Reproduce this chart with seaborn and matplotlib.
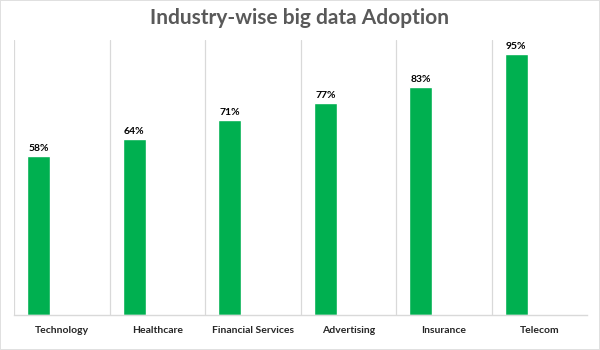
import matplotlib
matplotlib.use("Agg")
import matplotlib.pyplot as plt
import seaborn as sns
import pandas as pd
import numpy as np

categories = ["Technology", "Healthcare", "Financial Services", "Advertising", "Insurance", "Telecom"]
adoption = [58, 64, 71, 77, 83, 95]

sns.set_theme(style="white")
plt.rcParams['font.family'] = ['Lato', 'DejaVu Sans']

df = pd.DataFrame({
    "category": categories * 3,
    "value": adoption + [np.nan] * 6 + [np.nan] * 6,
    "series": ["A"] * 6 + ["B"] * 6 + ["C"] * 6,
})

fig = plt.figure(figsize=(6, 3.5), dpi=100)
fig.patch.set_edgecolor("#e0e0e0")
fig.patch.set_linewidth(1.2)
ax = fig.add_axes([14/600, 35/350, 573/600, 275/350])

sns.barplot(data=df, x="category", y="value", hue="series", hue_order=["A", "B", "C"],
            order=categories, palette=["#00B050", "#00B050", "#00B050"], width=0.72,
            legend=False, ax=ax, errorbar=None, saturation=1)

ax.set_xlim(-0.5, 5.5)
ax.set_ylim(0, 100)
for xv in np.arange(-0.5, 5.0, 1.0):
    ax.axvline(xv, color="#d9d9d9", lw=0.9, zorder=0)
for s in ["top", "right", "left"]:
    ax.spines[s].set_visible(False)
ax.spines["bottom"].set_color("#d9d9d9")
ax.spines["bottom"].set_linewidth(1)
ax.set_yticks([])
ax.set_xlabel("")
ax.set_ylabel("")
ax.tick_params(axis="x", length=0, pad=8)
for lbl in ax.get_xticklabels():
    lbl.set_fontsize(7.5)
    lbl.set_fontweight("bold")
    lbl.set_color("#262626")

for container in ax.containers[:1]:
    ax.bar_label(container, labels=[f"{v}%" for v in adoption], fontsize=7.5,
                 fontweight="bold", color="#000000", padding=2)

fig.text(0.5, 1 - 18/350, "Industry-wise big data Adoption", ha="center", va="center",
         fontsize=15, fontweight="bold", color="#595959")

fig.savefig("out.png", dpi=100, edgecolor=fig.get_edgecolor())
